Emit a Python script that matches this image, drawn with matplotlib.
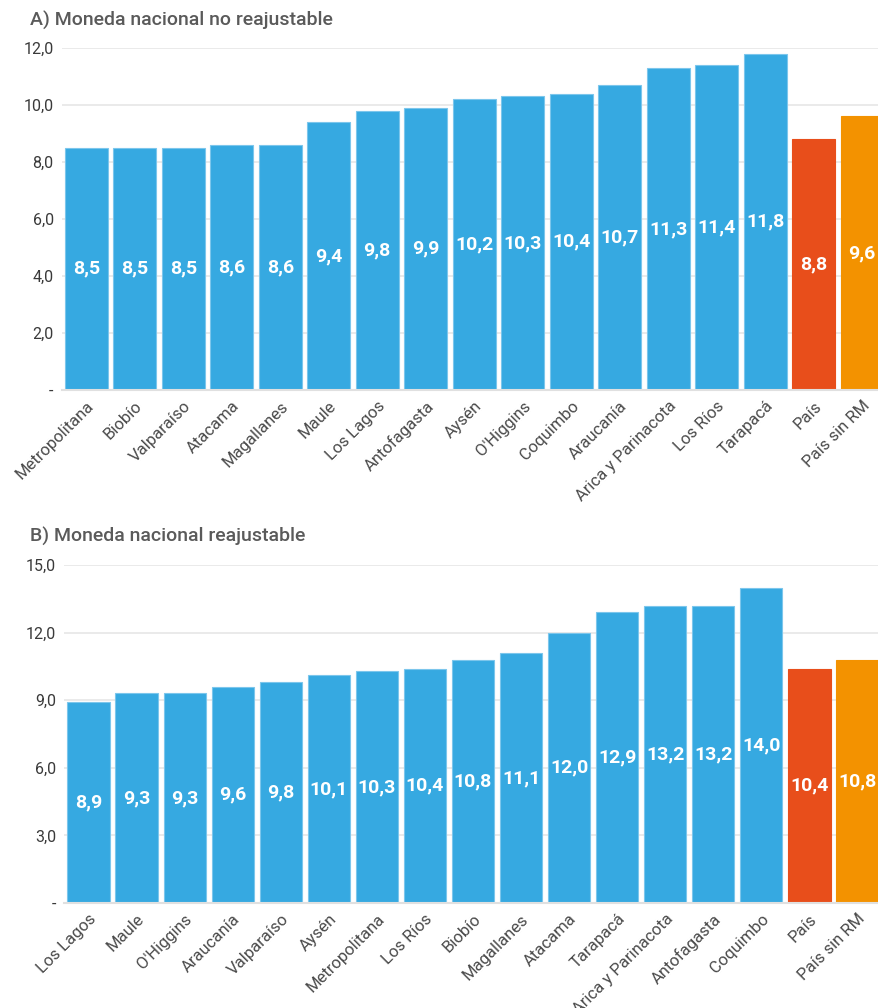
import matplotlib.pyplot as plt
from matplotlib.ticker import FixedLocator, FuncFormatter

# Panel A: moneda nacional no reajustable
regiones_a = ["Metropolitana", "Biobío", "Valparaíso", "Atacama", "Magallanes", "Maule",
              "Los Lagos", "Antofagasta", "Aysén", "O'Higgins", "Coquimbo", "Araucanía",
              "Arica y Parinacota", "Los Ríos", "Tarapacá", "País", "País sin RM"]
valores_a = [8.5, 8.5, 8.5, 8.6, 8.6, 9.4, 9.8, 9.9, 10.2, 10.3, 10.4, 10.7, 11.3, 11.4, 11.8, 8.8, 9.6]

# Panel B: moneda nacional reajustable
regiones_b = ["Los Lagos", "Maule", "O'Higgins", "Araucanía", "Valparaíso", "Aysén",
              "Metropolitana", "Los Ríos", "Biobío", "Magallanes", "Atacama", "Tarapacá",
              "Arica y Parinacota", "Antofagasta", "Coquimbo", "País", "País sin RM"]
valores_b = [8.9, 9.3, 9.3, 9.6, 9.8, 10.1, 10.3, 10.4, 10.8, 11.1, 12.0, 12.9, 13.2, 13.2, 14.0, 10.4, 10.8]

ticks_a = [0, 2, 4, 6, 8, 10, 12]
ticks_b = [0, 3, 6, 9, 12, 15]

AZUL, ROJO, NARANJA = "#36a9e1", "#e84e1b", "#f39200"
FONT = ["Roboto", "DejaVu Sans"]
FONT_NUM = ["Liberation Sans Narrow", "Roboto", "DejaVu Sans"]


def fmt(v, _=None):
    return "-" if v == 0 else f"{v:.1f}".replace(".", ",")


def panel(ax, cats, vals, ticks, title, title_y):
    colors = [AZUL] * (len(cats) - 2) + [ROJO, NARANJA]
    edges = ["#7cc6ec"] * (len(cats) - 2) + [ROJO, NARANJA]
    x = range(len(cats))
    ax.bar(x, vals, width=0.88, color=colors, edgecolor=edges, linewidth=0.8, zorder=2)
    for i, v in zip(x, vals):
        ax.text(i, v / 2, fmt(v), ha="center", va="center", color="white",
                fontsize=14, fontweight="bold", family=FONT_NUM, zorder=3)
    ax.set_xlim(-0.5, len(cats) - 0.5)
    ax.set_ylim(0, ticks[-1])
    ax.yaxis.set_major_locator(FixedLocator(ticks))
    ax.yaxis.set_major_formatter(FuncFormatter(fmt))
    ax.grid(axis="y", color="#e8e8e8", lw=1.3, zorder=0)
    ax.set_axisbelow(True)
    for s in ["top", "right", "left"]:
        ax.spines[s].set_visible(False)
    ax.spines["bottom"].set_color("#e0e0e0")
    ax.spines["bottom"].set_linewidth(1.5)
    ax.tick_params(length=0, pad=6)
    ax.set_xticks(list(x))
    ax.set_xticklabels(cats, rotation=45, ha="right", rotation_mode="anchor",
                       fontsize=12, color="#4a4a4a", family=FONT)
    for lab in ax.get_yticklabels():
        lab.set_fontsize(11.5)
        lab.set_color("#3a3a3a")
        lab.set_family(FONT)
    fig.text(30 / 879, 1 - title_y / 1008, title, fontsize=14, fontweight="medium",
             color="#5a5a5a", family=FONT, va="center", ha="left")


fig = plt.figure(figsize=(8.79, 10.08), dpi=100)
ax_a = fig.add_axes([62 / 879, 1 - 390 / 1008, 824.5 / 879, 342 / 1008])
ax_b = fig.add_axes([64.5 / 879, 1 - 903 / 1008, 817 / 879, 338 / 1008])
panel(ax_a, regiones_a, valores_a, ticks_a, "A) Moneda nacional no reajustable", 20)
panel(ax_b, regiones_b, valores_b, ticks_b, "B) Moneda nacional reajustable", 536)
fig.savefig("out.png", dpi=100)
